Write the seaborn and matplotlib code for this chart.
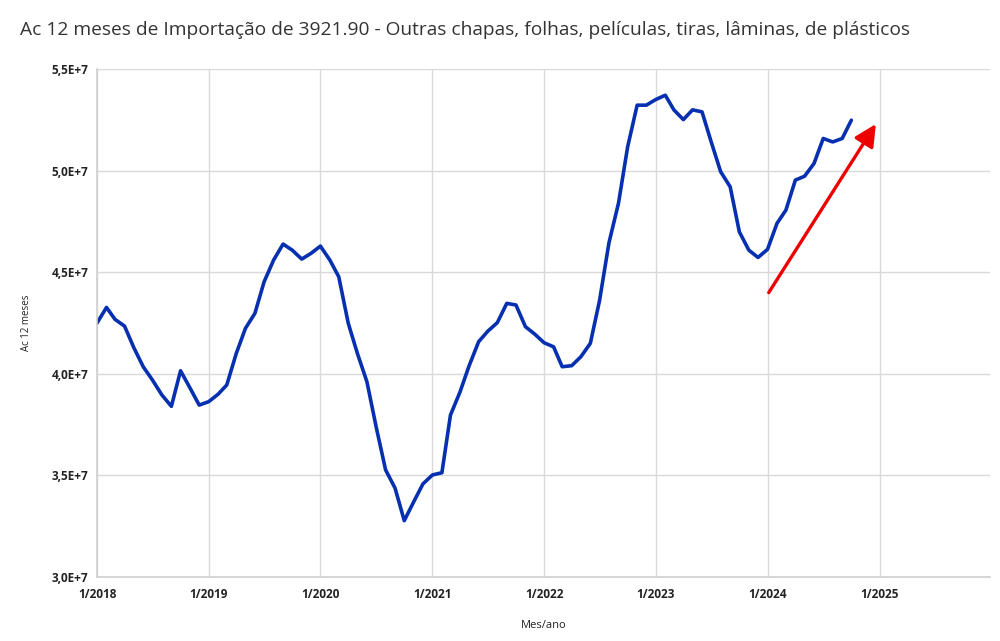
import numpy as np
import pandas as pd
import matplotlib
matplotlib.use("Agg")
import matplotlib.pyplot as plt
import seaborn as sns

start_month = "2018-01-01"
values_e7 = [
    4.25, 4.327, 4.268, 4.235, 4.13, 4.035, 3.97, 3.896, 3.84, 4.015, 3.93, 3.846,
    3.863, 3.90, 3.945, 4.10, 4.224, 4.298, 4.453, 4.56, 4.639, 4.609, 4.565, 4.593,
    4.629, 4.56, 4.478, 4.249, 4.10, 3.961, 3.74, 3.527, 3.437, 3.277, 3.37, 3.458,
    3.502, 3.513, 3.797, 3.91, 4.04, 4.158, 4.21, 4.252, 4.347, 4.339, 4.232, 4.196,
    4.153, 4.133, 4.035, 4.04, 4.084, 4.15, 4.36, 4.646, 4.84, 5.118, 5.323, 5.323,
    5.351, 5.372, 5.30, 5.252, 5.30, 5.29, 5.142, 4.995, 4.921, 4.699, 4.609, 4.573,
    4.613, 4.741, 4.806, 4.954, 4.973, 5.036, 5.159, 5.142, 5.159, 5.249,
]
tick_years = [2018, 2019, 2020, 2021, 2022, 2023, 2024, 2025]
y_ticks = [3.0e7, 3.5e7, 4.0e7, 4.5e7, 5.0e7, 5.5e7]
arrow_start = ("2024-01-05", 4.40e7)
arrow_end = ("2024-12-20", 5.23e7)

title = "Ac 12 meses de Importação de 3921.90 - Outras chapas, folhas, películas, tiras, lâminas, de plásticos"

dates = pd.date_range(start_month, periods=len(values_e7), freq="MS")
df = pd.DataFrame({"Mes": dates, "Valor": np.array(values_e7) * 1e7})

sns.set_theme(style="whitegrid")
plt.rcParams["font.family"] = ["Open Sans", "DejaVu Sans"]

fig = plt.figure(figsize=(10, 6.41), dpi=100)
ax = fig.add_axes([0.097, 0.1, 0.893, 0.792])

sns.lineplot(data=df, x="Mes", y="Valor", ax=ax, color="#0730b0", linewidth=2.6)

ax.annotate("", xy=(pd.Timestamp(arrow_end[0]), arrow_end[1]),
            xytext=(pd.Timestamp(arrow_start[0]), arrow_start[1]),
            arrowprops=dict(arrowstyle="-|>,head_length=1.1,head_width=0.55",
                            color="#ee0000", lw=2.4, shrinkA=0, shrinkB=0))

ax.set_xlim(pd.Timestamp("2018-01-01"), pd.Timestamp("2025-12-28"))
ax.set_ylim(3.0e7, 5.5e7)
ax.set_xticks([pd.Timestamp(f"{y}-01-01") for y in tick_years])
ax.set_xticklabels([f"1/{y}" for y in tick_years])
ax.set_yticks(y_ticks)
ax.set_yticklabels([f"{v/1e7:.1f}".replace(".", ",") + "E+7" for v in y_ticks])

for lab in ax.get_xticklabels() + ax.get_yticklabels():
    lab.set_fontsize(8.5)
    lab.set_fontweight("bold")
    lab.set_color("#222222")
ax.tick_params(axis="x", length=0, pad=8)
ax.tick_params(axis="y", length=0, pad=6)

ax.grid(True, color="#d9d9d9", linewidth=1.0)
for s in ["top", "right"]:
    ax.spines[s].set_visible(False)
for s in ["left", "bottom"]:
    ax.spines[s].set_visible(True)
    ax.spines[s].set_color("#d0d0d0")
    ax.spines[s].set_linewidth(1.2)

ax.set_xlabel("Mes/ano", fontsize=8, color="#222222", labelpad=14)
ax.set_ylabel("Ac 12 meses", fontsize=7, color="#222222", labelpad=14)

fig.text(0.02, 0.953, title, fontsize=13.8, color="#333333", ha="left", va="center")

fig.savefig("out.png", dpi=100, facecolor="white")
